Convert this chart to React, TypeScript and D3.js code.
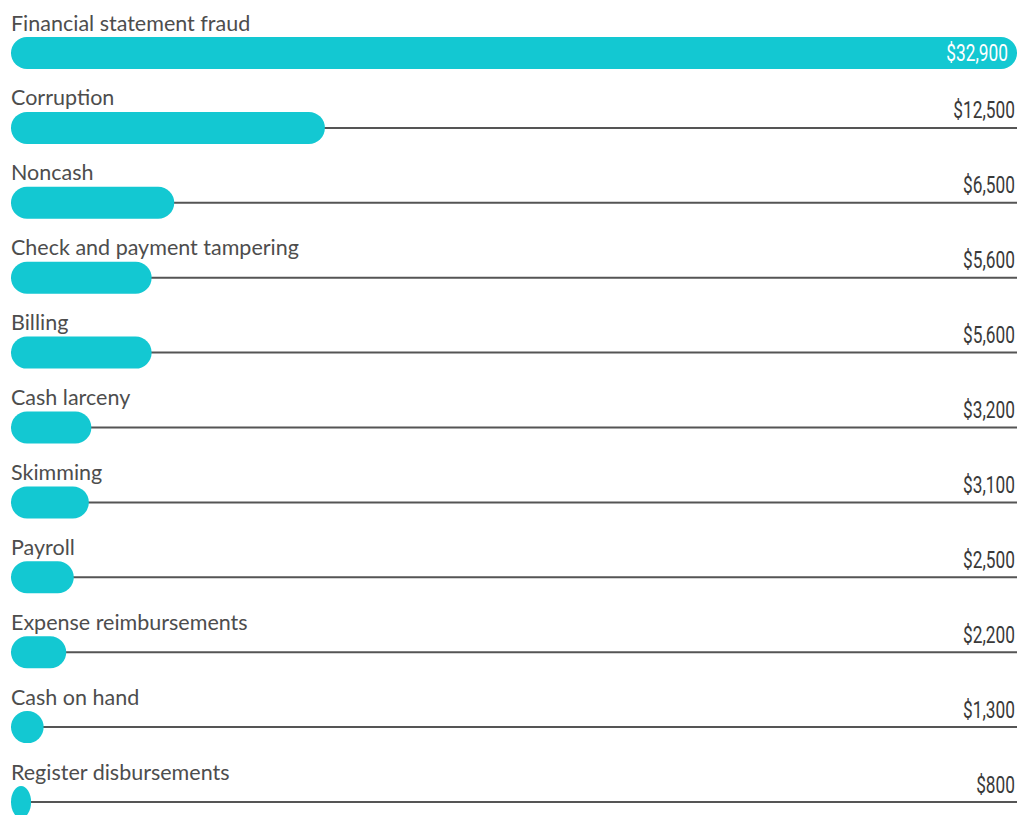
import React, { useEffect, useRef } from 'react';
import * as d3 from 'd3';

const categories = [
  'Financial statement fraud',
  'Corruption',
  'Noncash',
  'Check and payment tampering',
  'Billing',
  'Cash larceny',
  'Skimming',
  'Payroll',
  'Expense reimbursements',
  'Cash on hand',
  'Register disbursements',
];
const medianLoss = [32900, 12500, 6500, 5600, 5600, 3200, 3100, 2500, 2200, 1300, 800];

const App = () => {
  const svgRef = useRef<SVGSVGElement>(null);

  useEffect(() => {
    const svg = d3.select(svgRef.current);
    svg.selectAll('*').remove();

    const width = 1019;
    const height = 815;
    const left = 11;
    const right = 1017;
    const innerW = right - left;
    const rowStep = 74.9;
    const barH = 32;
    const barTop = 37;

    const rows = categories.map((c, i) => ({ name: c, value: medianLoss[i] }));

    // first bar runs the full width, the rest share a tighter scale
    const x = d3.scaleLinear()
      .domain([0, 12500, d3.max(medianLoss) as number])
      .range([0, innerW * 0.312, innerW]);

    const y = d3.scaleBand()
      .domain(categories)
      .range([0, rowStep * categories.length])
      .padding(0);

    const g = svg.attr('width', width).attr('height', height)
      .append('g')
      .attr('transform', `translate(${left},0)`);

    const row = g.selectAll('.row')
      .data(rows)
      .enter()
      .append('g')
      .attr('class', 'row')
      .attr('transform', d => `translate(0,${y(d.name)})`);

    row.append('line')
      .attr('x1', 0)
      .attr('x2', innerW)
      .attr('y1', barTop + barH / 2)
      .attr('y2', barTop + barH / 2)
      .attr('stroke', '#555')
      .attr('stroke-width', 2);

    row.append('rect')
      .attr('x', 0)
      .attr('y', barTop)
      .attr('width', d => x(d.value))
      .attr('height', barH)
      .attr('rx', d => Math.min(barH / 2, x(d.value) / 2))
      .attr('ry', barH / 2)
      .attr('fill', '#13C8D2');

    row.append('text')
      .attr('x', 0)
      .attr('y', barTop - 6.5)
      .text(d => d.name)
      .attr('font-family', 'Lato, "Open Sans", sans-serif')
      .attr('font-size', 21.5)
      .attr('fill', '#4d4d4d');

    // condensed value labels, squeezed horizontally
    row.append('text')
      .attr('transform', (d, i) => i === 0
        ? `translate(${innerW - 9},${barTop + barH / 2 + 8}) scale(0.72,1)`
        : `translate(${innerW - 2},${barTop + barH / 2 - 9.5}) scale(0.72,1)`)
      .attr('text-anchor', 'end')
      .text(d => d3.format('$,')(d.value))
      .attr('font-family', 'Roboto, sans-serif')
      .attr('font-size', 24)
      .attr('fill', (d, i) => i === 0 ? '#fff' : '#3a3a3a');
  }, []);

  return (
    <svg ref={svgRef} style={{ position: 'absolute', left: 0, top: 0, display: 'block' }}></svg>
  );
};

export default App;
